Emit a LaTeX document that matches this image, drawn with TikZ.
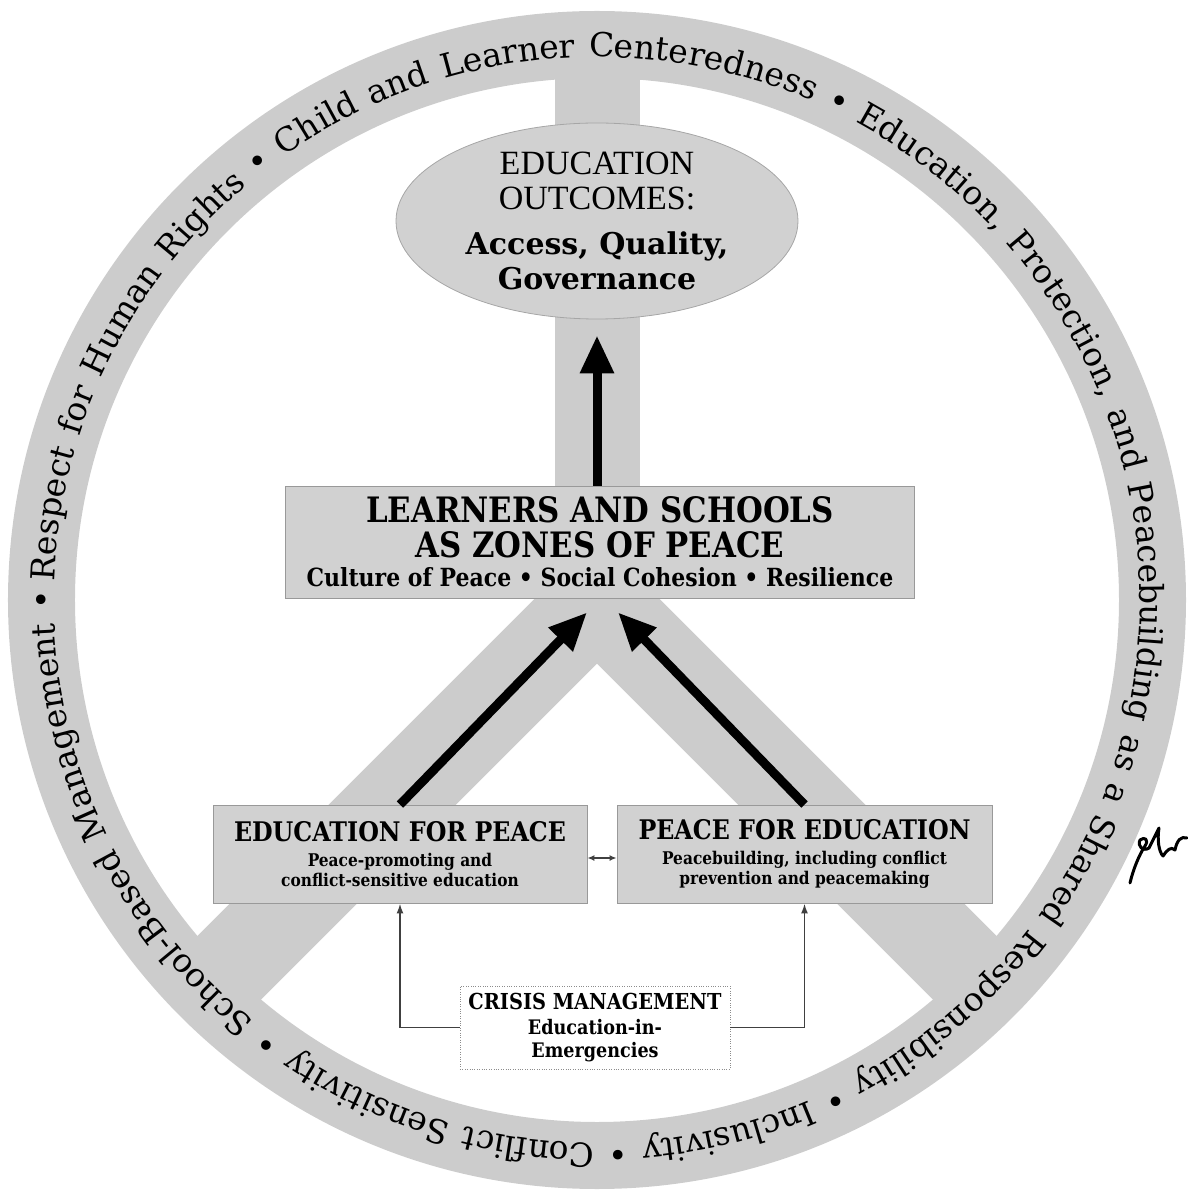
\documentclass[tikz,border=0pt]{standalone}
\usepackage{fontspec}
\setmainfont{DejaVu Serif}
\newfontfamily\boxfont[FakeStretch=0.88]{DejaVu Serif}
\newfontfamily\outfont{Liberation Serif}
\usetikzlibrary{positioning,shapes.geometric,arrows.meta,decorations.text}
\definecolor{bandgray}{gray}{0.80}
\definecolor{boxgray}{gray}{0.82}

\begin{document}
\begin{tikzpicture}[x=1pt, y=1pt,
    band/.style={fill=bandgray, draw=none},
    zonebox/.style={rectangle, draw=black!40, line width=0.8pt, fill=boxgray, inner sep=0pt, align=center},
    bigarrow/.style={line width=9pt, -{Triangle[length=38pt,width=32pt]}},
    thinarrow/.style={line width=1.8pt, draw=black!75, -{Latex[length=10pt,width=7pt]}}]
    \useasboundingbox (-597,-591) rectangle (590,600);

    % Peace sign bands
    \fill[band] (-42,0) rectangle (43,560);
    \fill[band, rotate=-45] (-45,0) rectangle (45,-575);
    \fill[band, rotate=45] (-45,0) rectangle (45,-575);

    % Ring with its principles
    \fill[band, even odd rule] (0,0) circle[radius=589] (0,0) circle[radius=522];
    \path[decorate, decoration={text along path, text align={fit to path stretching spaces},
        text={|\fontsize{33}{33}\selectfont|Respect for Human Rights • Child and Learner Centeredness • Education, Protection, and Peacebuilding as a Shared Responsibility • Inclusivity • Conflict Sensitivity • School-Based Management •}}]
        (178:543) arc[start angle=178, end angle=-181, radius=543];

    % Outcomes
    \node[ellipse, draw=black!35, line width=0.8pt, fill=boxgray, minimum width=402pt, minimum height=196pt, inner sep=0pt, align=center,
        font=\outfont\fontsize{34}{35}\selectfont] (outcomes) at (0,379)
        {EDUCATION\\OUTCOMES:\\[10pt]
         {\rmfamily\bfseries\fontsize{30}{35}\selectfont Access, Quality,}\\
         {\rmfamily\bfseries\fontsize{30}{35}\selectfont Governance}};

    % Zones of peace
    \node[zonebox, minimum width=629pt, minimum height=112pt, font=\boxfont\bfseries\fontsize{35}{35}\selectfont] (zones) at (3,58)
        {LEARNERS AND SCHOOLS\\AS ZONES OF PEACE\\[-6pt]
         {\fontsize{25}{29}\selectfont Culture of Peace • Social Cohesion • Resilience}};

    % Two approaches
    \node[zonebox, minimum width=374pt, minimum height=98pt, font=\boxfont\bfseries\fontsize{17.5}{20}\selectfont] (edupeace) at (-197,-254)
        {{\fontsize{27}{30}\selectfont EDUCATION FOR PEACE}\\[5pt]
         Peace-promoting and\\conflict-sensitive education};
    \node[zonebox, minimum width=375pt, minimum height=98pt, font=\boxfont\bfseries\fontsize{17.5}{20}\selectfont] (peaceedu) at (207.5,-254)
        {{\fontsize{27}{30}\selectfont PEACE FOR EDUCATION}\\[5pt]
         Peacebuilding, including conflict\\prevention and peacemaking};

    % Crisis management
    \node[rectangle, draw=black!45, dotted, fill=white, minimum width=270pt, minimum height=83pt, inner sep=0pt, align=center,
        font=\boxfont\bfseries\fontsize{20}{23}\selectfont] (crisis) at (-2,-427.5)
        {{\fontsize{22}{25}\selectfont CRISIS MANAGEMENT}\\[2pt]
         Education-in-\\Emergencies};

    % Connections
    \coordinate (ltip) at ([xshift=-13pt,yshift=-14pt]zones.south);
    \coordinate (rtip) at ([xshift=18pt,yshift=-14pt]zones.south);
    \draw[bigarrow] (zones.north -| outcomes.south) -- ([yshift=-16pt]outcomes.south);
    \draw[bigarrow] (edupeace.north) -- (ltip);
    \draw[bigarrow] (peaceedu.north) -- (rtip);
    \draw[line width=1.8pt, draw=black!75, {Latex[length=7pt,width=6pt]}-{Latex[length=7pt,width=6pt]}]
        ([yshift=-4pt]edupeace.east) -- ([yshift=-4pt]peaceedu.west);
    \draw[thinarrow] (crisis.west) -| (edupeace.south);
    \draw[thinarrow] (crisis.east) -| (peaceedu.south);

    % Signature
    \draw[line width=3pt, line cap=round, line join=round] (533,-283) .. controls (536,-270) and (542,-255) .. (548,-246)
        .. controls (552,-240) and (548,-236) .. (543,-240) .. controls (540,-246) and (546,-252) .. (552,-248)
        .. controls (556,-240) and (560,-232) .. (562,-228) .. controls (560,-240) and (562,-252) .. (566,-256)
        .. controls (570,-250) and (574,-246) .. (578,-250) .. controls (580,-240) and (584,-236) .. (590,-238);
\end{tikzpicture}
\end{document}
